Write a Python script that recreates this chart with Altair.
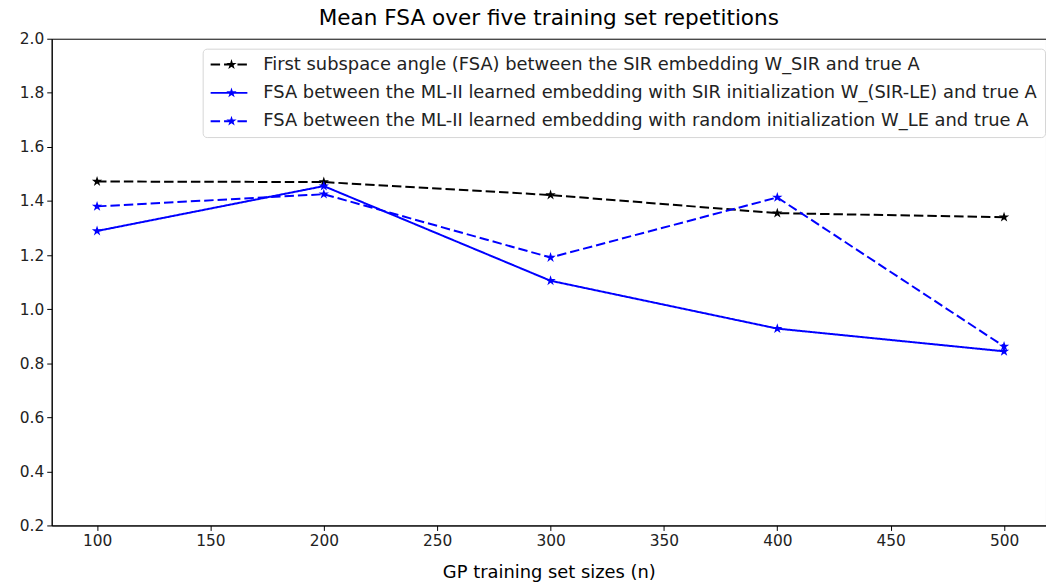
import altair as alt
import pandas as pd

n_sizes = [100, 200, 300, 400, 500]
series_names = [
    "First subspace angle (FSA) between the SIR embedding W_SIR and true A",
    "FSA between the ML-II learned embedding with SIR initialization W_(SIR-LE) and true A",
    "FSA between the ML-II learned embedding with random initialization W_LE and true A",
]
marker_keys = ["m1", "m2", "m3"]
fsa_sir = [1.472, 1.470, 1.422, 1.355, 1.340]
fsa_sir_le = [1.289, 1.455, 1.105, 0.928, 0.844]
fsa_le = [1.380, 1.425, 1.191, 1.413, 0.862]
series_colors = ["#000000", "#0000ff", "#0000ff"]
series_dashes = [[9.5, 4], [1, 0], [9.5, 4]]
y_ticks = [0.2, 0.4, 0.6, 0.8, 1.0, 1.2, 1.4, 1.6, 1.8, 2.0]
x_ticks = [100, 150, 200, 250, 300, 350, 400, 450, 500]

rows = []
for name, key, vals in zip(series_names, marker_keys, [fsa_sir, fsa_sir_le, fsa_le]):
    for n, v in zip(n_sizes, vals):
        rows.append({"n": n, "fsa": v, "series": name, "series_m": key})
df = pd.DataFrame(rows)

FONT = "DejaVu Sans"
W, H = 1001, 490
STAR = ("M0,-1L0.2245,-0.309L0.9511,-0.309L0.3633,0.118L0.5878,0.809L0,0.382"
        "L-0.5878,0.809L-0.3633,0.118L-0.9511,-0.309L-0.2245,-0.309Z")
LEG_FS = 18
LEG_ROWPAD = 10.5
LEG_PAD = 7
LEG_CLIP = 18

x_enc = alt.X(
    "n:Q",
    scale=alt.Scale(domain=[80, 518.5], nice=False, zero=False),
    axis=alt.Axis(values=x_ticks, title="GP training set sizes (n)", labelFlush=False),
)
y_enc = alt.Y(
    "fsa:Q",
    scale=alt.Scale(domain=[0.2, 2.0], nice=False, zero=False),
    axis=alt.Axis(values=y_ticks, format=".1f", title=None),
)

line_legend = dict(
    orient="none", legendX=152, legendY=10, title=None,
    symbolType="stroke", symbolSize=1369, symbolStrokeWidth=2,
    labelFontSize=LEG_FS, labelFont=FONT, labelColor="#222222",
    labelLimit=0, labelOffset=15, padding=LEG_PAD, rowPadding=LEG_ROWPAD,
    clipHeight=LEG_CLIP,
    strokeColor="#d6d6d6", cornerRadius=4,
)

base = alt.Chart(df)

lines = base.mark_line(strokeWidth=2).encode(
    x=x_enc,
    y=y_enc,
    color=alt.Color(
        "series:N",
        scale=alt.Scale(domain=series_names, range=series_colors),
        legend=alt.Legend(**line_legend),
    ),
    strokeDash=alt.StrokeDash(
        "series:N",
        scale=alt.Scale(domain=series_names, range=series_dashes),
        legend=alt.Legend(**line_legend),
    ),
)

points = base.mark_point(shape=STAR, filled=True, size=120, opacity=1).encode(
    x=x_enc,
    y=y_enc,
    fill=alt.Fill(
        "series_m:N",
        scale=alt.Scale(domain=marker_keys, range=series_colors),
        legend=alt.Legend(
            orient="none", legendX=165, legendY=10, title=None,
            symbolType=STAR, symbolSize=120, symbolStrokeWidth=0, symbolOpacity=1,
            labelFontSize=LEG_FS, labelFont=FONT, labelOpacity=0, labelExpr="''",
            labelLimit=0, labelOffset=15, padding=LEG_PAD, rowPadding=LEG_ROWPAD,
            clipHeight=LEG_CLIP,
            strokeColor="transparent",
        ),
    ),
)

chart = (
    alt.layer(lines, points)
    .properties(
        width=W,
        height=H,
        autosize=alt.AutoSizeParams(type="none"),
        padding={"left": 44, "top": 29, "right": 0, "bottom": 57},
        title=alt.Title(
            "Mean FSA over five training set repetitions",
            fontSize=21.7, font=FONT, fontWeight="normal", color="#000000",
            anchor="middle", offset=2,
        ),
    )
    .configure_view(stroke="#000000", strokeWidth=1)
    .configure_axis(
        grid=False,
        domainColor="#000000", domainWidth=1,
        tickColor="#000000", tickSize=5, tickWidth=1,
        labelFont=FONT, labelFontSize=15.5, labelColor="#222222", labelPadding=3,
        titleFont=FONT, titleFontSize=18, titleFontWeight="normal", titleColor="#000000",
        titlePadding=15,
    )
)

chart.save("out.html", embed_options={"renderer": "svg", "actions": False})
